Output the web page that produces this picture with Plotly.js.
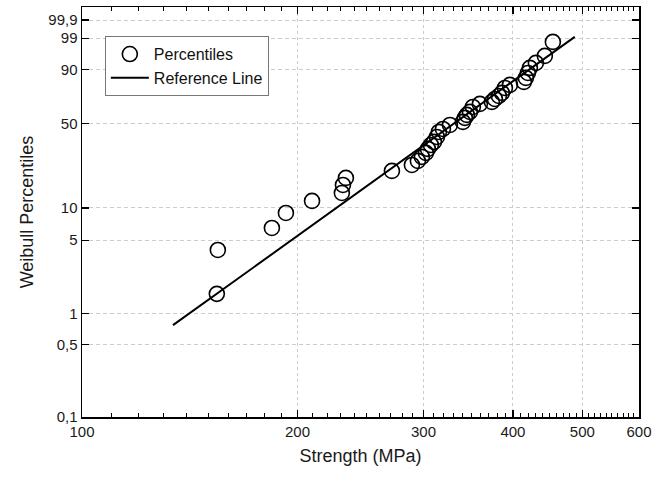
<!DOCTYPE html>
<html>
<head>
<meta charset="utf-8">
<script src="https://cdn.plot.ly/plotly-3.0.1.min.js"></script>
<style>html,body{margin:0;padding:0;background:#fff;}#chart{width:670px;height:481px;}</style>
</head>
<body>
<div id="chart"></div>
<script>
// Measured strength (MPa) and Weibull percentile (%) of each specimen
const strength = [154.3, 154.8, 184.2, 192.7, 209.6, 230.7, 231.5, 233.7, 271.0, 289.0,
  294.6, 298.4, 302.3, 304.3, 307.2, 310.2, 313.2, 315.2, 319.3, 326.6,
  340.5, 342.7, 344.9, 348.3, 351.6, 359.6, 373.8, 377.4, 382.3, 386.0,
  389.8, 396.1, 414.3, 417.0, 419.7, 422.4, 430.6, 443.2, 454.8];
const percentile = [1.54, 4.04, 6.51, 8.97, 11.57, 13.66, 16.10, 18.55, 21.32, 23.96,
  25.90, 27.94, 30.10, 32.39, 34.80, 36.72, 40.02, 43.52, 45.71, 48.71,
  51.03, 54.18, 56.59, 59.03, 63.10, 65.56, 67.22, 69.61, 72.02, 74.38,
  78.17, 80.36, 82.45, 85.08, 88.06, 90.72, 92.98, 95.52, 98.56];

// Reference line end points
const refStrength = [134, 488];
const refPercentile = [0.77, 99.13];

// Tick labels
const xTickVals = [100, 200, 300, 400, 500, 600];
const xTickText = ['100', '200', '300', '400', '500', '600'];
const yTickPercent = [0.1, 0.5, 1, 5, 10, 50, 90, 99, 99.9];
const yTickText = ['0,1', '0,5', '1', '5', '10', '50', '90', '99', '99,9'];

// Weibull probability scale
const weib = p => Math.log(-Math.log(1 - p / 100));

const xMinor = [];
for (let v = 110; v < 600; v += 10) if (v % 100 !== 0) xMinor.push(v);

const font = 'Liberation Sans, Arial, sans-serif';

const traces = [
  {
    x: refStrength, y: refPercentile.map(weib),
    type: 'scatter', mode: 'lines', name: 'Reference Line',
    line: {color: '#000', width: 2}, legendrank: 2
  },
  {
    x: strength, y: percentile.map(weib),
    type: 'scatter', mode: 'markers', name: 'Percentiles',
    marker: {symbol: 'circle-open', size: 15, color: '#000', line: {width: 1.6, color: '#000'}},
    legendrank: 1
  }
];

const layout = {
  width: 670, height: 481,
  margin: {l: 82, r: 31, t: 7, b: 64},
  paper_bgcolor: '#fff', plot_bgcolor: '#fff',
  font: {family: font, color: '#1a1a1a', size: 15},
  showlegend: true,
  legend: {
    x: 0.041, y: 0.929, xanchor: 'left', yanchor: 'top',
    bordercolor: '#777', borderwidth: 1, bgcolor: '#fff',
    font: {family: font, size: 16, color: '#111'},
    tracegroupgap: 0, itemwidth: 38
  },
  xaxis: {
    type: 'log', range: [Math.log10(100), Math.log10(600)],
    tickmode: 'array', tickvals: xTickVals, ticktext: xTickText,
    ticks: 'inside', ticklen: 7, tickwidth: 1.3, tickcolor: '#000',
    minor: {tickmode: 'array', tickvals: xMinor, ticks: 'inside', ticklen: 4, tickwidth: 1, tickcolor: '#000', showgrid: false},
    showline: true, linecolor: '#000', linewidth: 1.5, mirror: 'allticks',
    showgrid: true, gridcolor: '#cccccc', gridwidth: 1, griddash: '3px,3px',
    zeroline: false,
    tickfont: {family: font, size: 15, color: '#1a1a1a'},
    title: {text: 'Strength (MPa)', font: {family: font, size: 18, color: '#1a1a1a'}, standoff: 11}
  },
  yaxis: {
    range: [weib(0.1), 2.222],
    tickmode: 'array', tickvals: yTickPercent.map(weib), ticktext: yTickText,
    ticks: 'inside', ticklen: 7, tickwidth: 1.3, tickcolor: '#000',
    showline: true, linecolor: '#000', linewidth: 1.5, mirror: 'allticks',
    showgrid: true, gridcolor: '#cccccc', gridwidth: 1, griddash: '4px,3px',
    zeroline: false,
    tickfont: {family: font, size: 15, color: '#1a1a1a'},
    title: {text: 'Weibull Percentiles', font: {family: font, size: 18, color: '#1a1a1a'}, standoff: 10}
  }
};

Plotly.newPlot('chart', traces, layout, {displayModeBar: false, staticPlot: true});
</script>
</body>
</html>
